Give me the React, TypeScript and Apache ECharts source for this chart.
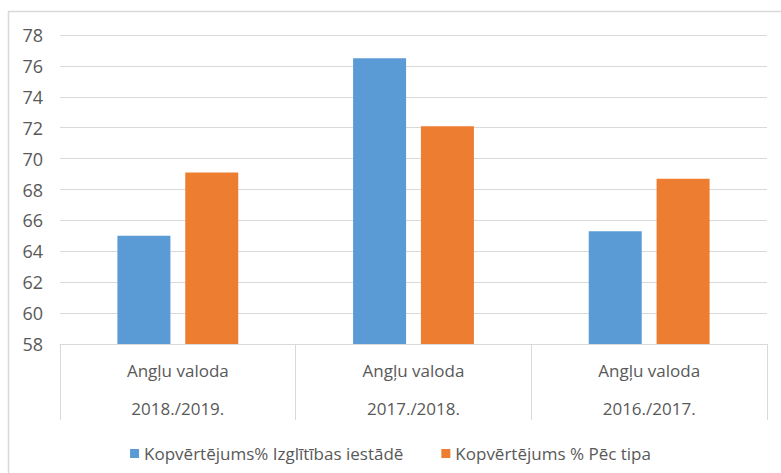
import React, { useEffect, useRef } from "react";
import * as echarts from "echarts";

const categories = ["Angļu valoda", "Angļu valoda", "Angļu valoda"];
const years = ["2018./2019.", "2017./2018.", "2016./2017."];
const seriesNames = ["Kopvērtējums% Izglītības iestādē", "Kopvērtējums % Pēc tipa"];
const schoolValues = [65.0, 76.5, 65.3];
const typeValues = [69.1, 72.1, 68.7];

const FONT = "'Open Sans', 'Liberation Sans', sans-serif";
const TEXT = "#595959";

export default function App() {
  const ref = useRef<HTMLDivElement>(null);
  useEffect(() => {
    if (!ref.current) return;
    const chart = echarts.init(ref.current, undefined, { renderer: "svg" });
    const labels = categories.map((c, i) => `{a|${c}}\n{b|${years[i]}}`);
    chart.setOption({
      animation: false,
      backgroundColor: "#ffffff",
      textStyle: { fontFamily: FONT, color: TEXT },
      graphic: [
        {
          type: "rect",
          shape: { x: 8.5, y: 11.5, width: 800, height: 470 },
          style: { fill: "none", stroke: "#d9d9d9", lineWidth: 1.5 },
          silent: true,
        },
      ],
      grid: { left: 60, right: 14, top: 35, bottom: 129, containLabel: false },
      legend: {
        top: 440,
        left: "center",
        itemWidth: 9,
        itemHeight: 9,
        itemGap: 38,
        icon: "rect",
        textStyle: { fontFamily: FONT, fontSize: 17, color: TEXT },
        data: seriesNames,
      },
      xAxis: {
        type: "category",
        data: labels,
        axisLine: { lineStyle: { color: "#d9d9d9", width: 1 } },
        axisTick: { show: true, length: 76, lineStyle: { color: "#d9d9d9" } },
        axisLabel: {
          margin: 7,
          interval: 0,
          formatter: (v: string) => v,
          rich: {
            a: { fontFamily: FONT, fontSize: 17, color: TEXT, lineHeight: 38 },
            b: { fontFamily: FONT, fontSize: 17, color: TEXT, lineHeight: 38 },
          },
        },
      },
      yAxis: {
        type: "value",
        min: 58,
        max: 78,
        interval: 2,
        axisLine: { show: false },
        axisTick: { show: false },
        axisLabel: { margin: 17, fontFamily: FONT, fontSize: 18, color: TEXT },
        splitLine: { lineStyle: { color: "#d9d9d9", width: 1 } },
      },
      series: [
        {
          name: seriesNames[0],
          type: "bar",
          data: schoolValues,
          barWidth: 53,
          barGap: "28%",
          itemStyle: { color: "#5b9bd5" },
        },
        {
          name: seriesNames[1],
          type: "bar",
          data: typeValues,
          barWidth: 53,
          itemStyle: { color: "#ed7d31" },
        },
      ],
    });
    return () => chart.dispose();
  }, []);
  return (
    <div
      ref={ref}
      style={{ position: "fixed", left: 0, top: 0, width: 781, height: 473 }}
    />
  );
}
